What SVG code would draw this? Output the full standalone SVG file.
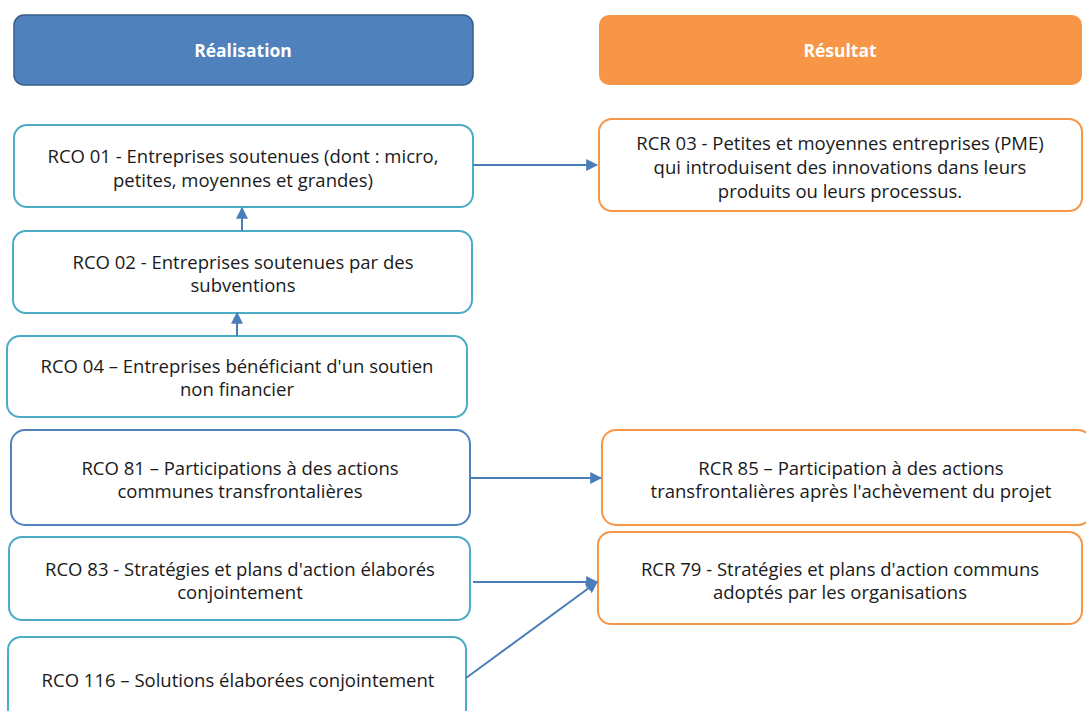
<svg xmlns="http://www.w3.org/2000/svg" width="1086" height="711" viewBox="0 0 1086 711">
<style>
text{font-family:"Open Sans","Liberation Sans",sans-serif;font-size:18.5px;fill:#1a1a1a;text-anchor:middle;dominant-baseline:central}
.hd{font-weight:bold;fill:#fff;font-size:17.5px}
.lb{fill:#fff;stroke:#4BACC6;stroke-width:2}
.db{fill:#fff;stroke:#4F81BD;stroke-width:2}
.ob{fill:#fff;stroke:#F79646;stroke-width:2}
.cn{stroke:#4A7EBB;stroke-width:2;fill:none;marker-end:url(#ah)}
</style>
<defs>
<marker id="ah" viewBox="0 0 10 10" refX="9" refY="5" markerWidth="6" markerHeight="6" orient="auto" markerUnits="strokeWidth">
<path d="M0,0L10,5L0,10z" fill="#4A7EBB"/>
</marker>
</defs>
<g id="h-realisation">
<rect x="14" y="15" width="459" height="70" rx="10" fill="#4F81BD" stroke="#385D8A" stroke-width="1.5"/>
<text class="hd" x="243" y="50">Réalisation</text>
</g>
<g id="h-resultat">
<rect x="599" y="15" width="483" height="70" rx="10" fill="#F79646"/>
<text class="hd" x="840" y="50">Résultat</text>
</g>
<g id="rco01">
<rect class="lb" x="14" y="125" width="459" height="82" rx="13"/>
<text x="243" y="155">RCO 01 - Entreprises soutenues (dont : micro,</text>
<text x="243" y="179">petites, moyennes et grandes)</text>
</g>
<g id="rcr03">
<rect class="ob" x="599" y="119" width="483" height="92" rx="13"/>
<text x="840" y="142">RCR 03 - Petites et moyennes entreprises (PME)</text>
<text x="840" y="166">qui introduisent des innovations dans leurs</text>
<text x="840" y="190">produits ou leurs processus.</text>
</g>
<g id="rco02">
<rect class="lb" x="13" y="231" width="459" height="82" rx="13"/>
<text x="243" y="261">RCO 02 - Entreprises soutenues par des</text>
<text x="243" y="284">subventions</text>
</g>
<g id="rco04">
<rect class="lb" x="7" y="336" width="460" height="81" rx="13"/>
<text x="237" y="365">RCO 04 – Entreprises bénéficiant d'un soutien</text>
<text x="237" y="388">non financier</text>
</g>
<g id="rco81">
<rect class="db" x="11" y="430" width="459" height="95" rx="14"/>
<text x="240" y="467">RCO 81 – Participations à des actions</text>
<text x="240" y="490">communes transfrontalières</text>
</g>
<g id="rcr85">
<rect class="ob" x="602" y="430" width="490" height="95" rx="14"/>
<text x="851" y="467">RCR 85 – Participation à des actions</text>
<text x="851" y="490">transfrontalières après l'achèvement du projet</text>
</g>
<g id="rco83">
<rect class="lb" x="9" y="537" width="461" height="83" rx="13"/>
<text x="240" y="568">RCO 83 - Stratégies et plans d'action élaborés</text>
<text x="240" y="591">conjointement</text>
</g>
<g id="rcr79">
<rect class="ob" x="598" y="532" width="484" height="92" rx="13"/>
<text x="840" y="568">RCR 79 - Stratégies et plans d'action communs</text>
<text x="840" y="591">adoptés par les organisations</text>
</g>
<g id="rco116">
<rect class="lb" x="8" y="637" width="458" height="90" rx="13"/>
<text x="238" y="679">RCO 116 – Solutions élaborées conjointement</text>
</g>
<g id="connectors">
<path class="cn" d="M473,165H597"/>
<path class="cn" d="M242,231V208"/>
<path class="cn" d="M237,336V313"/>
<path class="cn" d="M470,478H601"/>
<path class="cn" d="M473,582H597"/>
<path class="cn" d="M466,678L597,582"/>
</g>
</svg>
